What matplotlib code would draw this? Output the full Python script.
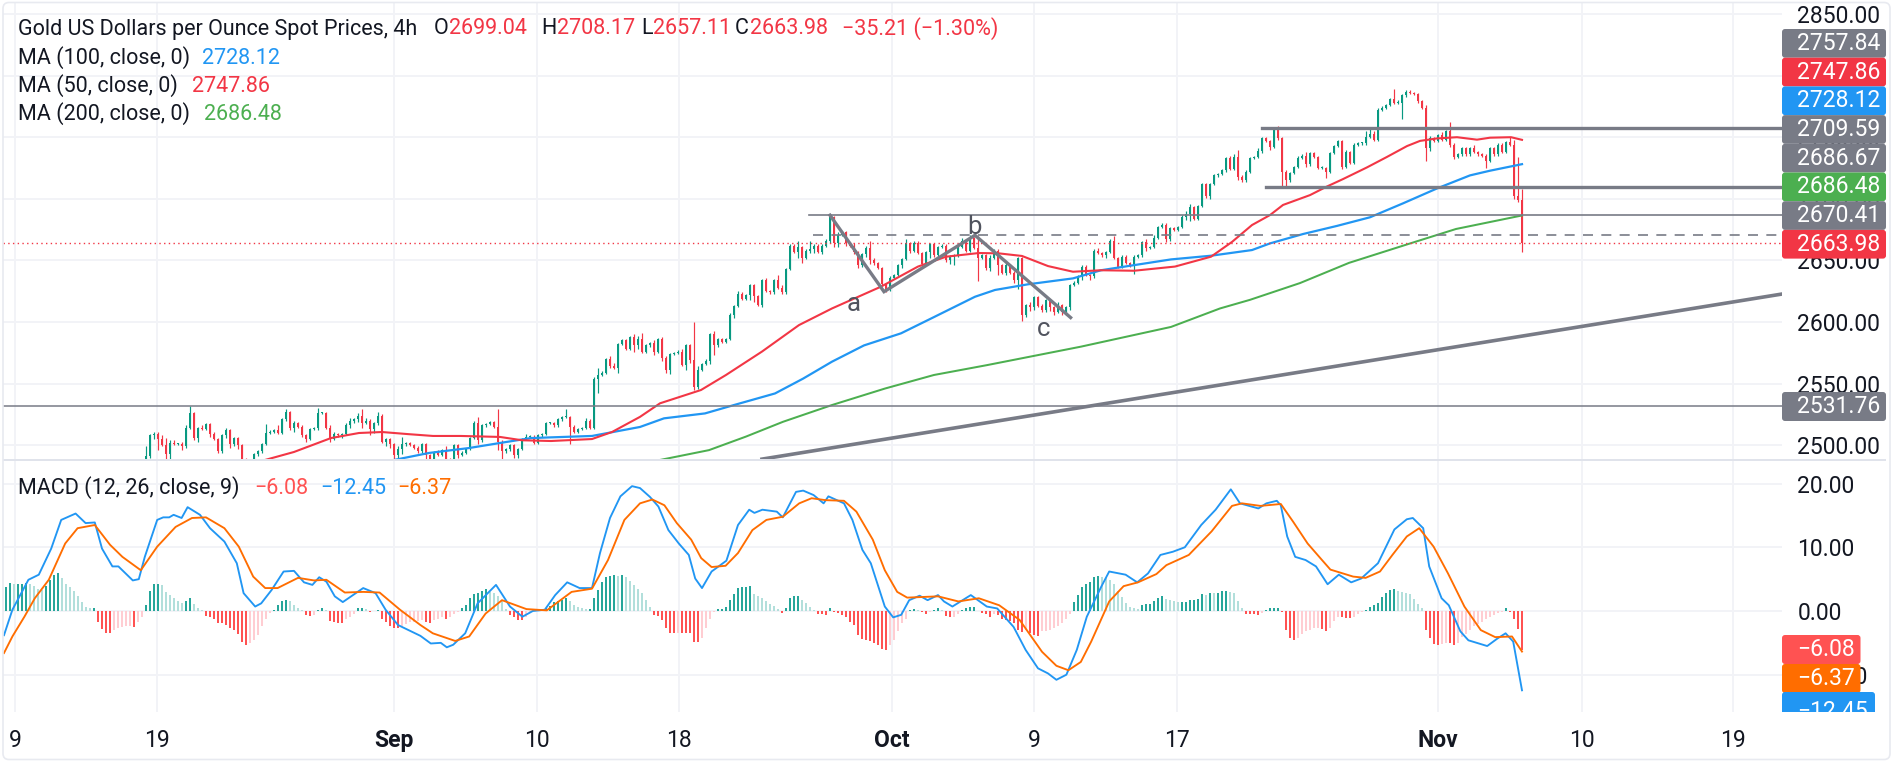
import matplotlib
matplotlib.use('Agg')
import matplotlib.pyplot as plt
from matplotlib.patches import FancyBboxPatch, Rectangle
from matplotlib.transforms import Affine2D, Bbox

W, H = 1894, 763
plt.rcParams['font.family'] = ['Roboto', 'DejaVu Sans']

# candles, one per 4h bar (open is the close before)
closes = [
    2491, 2508, 2509, 2505, 2500, 2493, 2502, 2501, 2501, 2499,
    2514, 2526, 2506, 2514, 2513, 2517, 2509, 2505, 2495, 2508,
    2512, 2501, 2506, 2500, 2489, 2485, 2483, 2493, 2495, 2501,
    2510, 2511, 2512, 2510, 2521, 2527, 2514, 2518, 2515, 2508,
    2505, 2513, 2514, 2526, 2526, 2514, 2505, 2509, 2508, 2509,
    2516, 2520, 2521, 2524, 2518, 2520, 2513, 2518, 2524, 2503,
    2505, 2501, 2492, 2497, 2501, 2502, 2500, 2498, 2495, 2501,
    2492, 2489, 2494, 2492, 2496, 2489, 2488, 2500, 2492, 2494,
    2497, 2506, 2518, 2504, 2516, 2517, 2519, 2515, 2503, 2495,
    2497, 2500, 2492, 2497, 2505, 2507, 2507, 2502, 2508, 2509,
    2518, 2518, 2516, 2521, 2523, 2523, 2515, 2511, 2513, 2514,
    2520, 2514, 2554, 2557, 2559, 2570, 2564, 2563, 2582, 2585,
    2578, 2588, 2581, 2586, 2576, 2581, 2583, 2576, 2586, 2571,
    2561, 2574, 2575, 2576, 2565, 2581, 2569, 2547, 2561, 2566,
    2568, 2590, 2581, 2586, 2584, 2586, 2606, 2613, 2623, 2619,
    2622, 2630, 2621, 2614, 2634, 2625, 2624, 2634, 2628, 2624,
    2643, 2662, 2657, 2661, 2652, 2658, 2659, 2662, 2657, 2662,
    2666, 2685, 2664, 2671, 2673, 2664, 2662, 2657, 2646, 2655,
    2660, 2650, 2648, 2644, 2631, 2626, 2636, 2638, 2646, 2651,
    2664, 2658, 2664, 2656, 2647, 2657, 2663, 2654, 2661, 2662,
    2650, 2653, 2654, 2661, 2666, 2658, 2668, 2660, 2652, 2654,
    2644, 2652, 2658, 2646, 2640, 2646, 2640, 2634, 2652, 2606,
    2614, 2612, 2620, 2613, 2610, 2618, 2612, 2608, 2614, 2608,
    2612, 2630, 2632, 2637, 2645, 2638, 2637, 2658, 2656, 2654,
    2657, 2666, 2652, 2645, 2653, 2648, 2646, 2653, 2654, 2665,
    2660, 2661, 2668, 2677, 2679, 2667, 2676, 2675, 2677, 2685,
    2688, 2693, 2684, 2694, 2712, 2702, 2712, 2719, 2720, 2723,
    2733, 2724, 2734, 2718, 2715, 2722, 2733, 2734, 2739, 2749,
    2747, 2742, 2756, 2749, 2722, 2715, 2721, 2726, 2733, 2735,
    2728, 2737, 2734, 2725, 2725, 2722, 2737, 2743, 2747, 2726,
    2738, 2729, 2744, 2745, 2745, 2750, 2753, 2748, 2772, 2774,
    2776, 2781, 2778, 2778, 2784, 2787, 2786, 2785, 2779, 2774,
    2741, 2749, 2747, 2752, 2748, 2755, 2744, 2734, 2736, 2741,
    2736, 2741, 2738, 2736, 2735, 2731, 2741, 2736, 2744, 2738,
    2746, 2744, 2702, 2699, 2663.98]
upper_wick = [
    8, 1, 2, 2, 3, 6, 2, 2, 1, 2,
    2, 6, 1, 1, 2, 1, 1, 2, 1, 1,
    2, 1, 1, 1, 1, 1, 1, 1, 1, 1,
    7, 1, 1, 4, 1, 2, 1, 2, 1, 1,
    1, 1, 1, 4, 1, 1, 2, 2, 1, 1,
    2, 2, 1, 2, 5, 2, 1, 1, 3, 1,
    1, 1, 1, 2, 6, 1, 1, 1, 1, 1,
    1, 1, 1, 2, 1, 3, 1, 1, 1, 1,
    1, 1, 2, 5, 1, 1, 1, 1, 14, 1,
    1, 1, 1, 1, 1, 2, 1, 1, 1, 1,
    1, 1, 1, 1, 1, 6, 1, 1, 1, 1,
    2, 1, 1, 6, 1, 1, 2, 3, 1, 1,
    1, 1, 2, 3, 5, 1, 1, 2, 1, 2,
    1, 1, 1, 1, 2, 1, 1, 31, 3, 1,
    2, 1, 3, 1, 1, 1, 1, 1, 2, 1,
    1, 1, 1, 1, 1, 2, 1, 1, 4, 2,
    1, 1, 1, 5, 1, 1, 7, 1, 1, 1,
    1, 3, 1, 2, 1, 1, 1, 2, 1, 1,
    2, 6, 2, 1, 1, 1, 1, 1, 1, 1,
    3, 1, 2, 2, 1, 1, 1, 1, 1, 1,
    1, 1, 1, 1, 2, 1, 3, 1, 10, 1,
    1, 2, 1, 1, 1, 2, 1, 1, 1, 1,
    1, 2, 1, 1, 2, 1, 1, 1, 2, 1,
    1, 1, 1, 1, 1, 1, 1, 1, 2, 1,
    1, 1, 4, 1, 1, 1, 1, 1, 1, 1,
    2, 1, 3, 1, 1, 1, 1, 1, 1, 2,
    2, 3, 1, 1, 1, 1, 1, 1, 1, 1,
    1, 2, 2, 6, 1, 1, 1, 1, 2, 1,
    1, 1, 1, 3, 1, 1, 1, 1, 2, 1,
    3, 1, 1, 1, 2, 1, 1, 1, 1, 1,
    2, 1, 1, 1, 1, 5, 4, 2, 2, 1,
    1, 1, 8, 2, 1, 1, 1, 1, 1, 1,
    2, 2, 1, 1, 2, 1, 7, 1, 1, 1,
    1, 1, 3, 1, 1, 1, 1, 1, 1, 1,
    1, 4, 4, 32, 9.13]
lower_wick = [
    8, 1, 3, 9, 1, 5, 8, 1, 1, 3,
    1, 1, 2, 3, 1, 1, 2, 1, 1, 1,
    2, 3, 2, 3, 3, 3, 3, 5, 2, 1,
    1, 1, 1, 1, 1, 1, 2, 3, 1, 1,
    2, 1, 1, 2, 1, 1, 2, 1, 1, 2,
    1, 2, 2, 2, 4, 1, 5, 3, 2, 1,
    4, 3, 6, 2, 4, 2, 1, 1, 1, 1,
    3, 3, 1, 1, 1, 3, 2, 2, 2, 1,
    1, 1, 1, 3, 1, 1, 1, 1, 7, 7,
    1, 2, 2, 2, 1, 1, 1, 1, 1, 1,
    1, 1, 1, 1, 1, 1, 14, 1, 1, 1,
    1, 1, 1, 12, 1, 1, 1, 1, 4, 1,
    1, 1, 5, 3, 1, 1, 1, 3, 1, 3,
    2, 3, 1, 1, 1, 4, 2, 2, 1, 1,
    1, 2, 8, 1, 1, 1, 1, 3, 1, 1,
    1, 4, 5, 1, 2, 1, 1, 1, 1, 1,
    1, 1, 1, 5, 4, 1, 2, 3, 1, 2,
    1, 2, 3, 3, 1, 2, 1, 2, 2, 1,
    2, 3, 2, 1, 1, 2, 1, 1, 1, 2,
    1, 2, 1, 1, 2, 1, 5, 1, 2, 1,
    1, 3, 7, 1, 1, 1, 1, 1, 19, 1,
    2, 3, 1, 8, 1, 2, 1, 2, 7, 5,
    2, 3, 2, 1, 2, 2, 3, 2, 1, 2,
    2, 2, 1, 1, 3, 1, 3, 1, 1, 1,
    2, 1, 1, 1, 1, 1, 1, 7, 1, 1,
    2, 1, 1, 1, 1, 2, 1, 1, 1, 1,
    2, 6, 1, 1, 1, 1, 2, 1, 1, 1,
    1, 1, 1, 3, 1, 1, 1, 1, 1, 2,
    1, 2, 1, 1, 12, 5, 1, 1, 1, 1,
    2, 1, 1, 1, 1, 5, 1, 1, 1, 2,
    1, 1, 1, 1, 1, 1, 1, 1, 1, 1,
    1, 1, 1, 1, 13, 1, 1, 1, 1, 1,
    10, 2, 1, 1, 1, 1, 2, 2, 1, 1,
    1, 1, 1, 1, 1, 6, 1, 1, 1, 1,
    1, 1, 2, 2, 6.87]

# moving averages: bar number, price
ma50_x = [65.75, 73, 82.25, 89.25, 95, 101.5, 107.75, 114.75, 124.5, 130, 137.25, 147.5, 152.5, 159.5,
          164.5, 174.75, 181, 190, 199.25, 207.5, 219.75, 229, 236, 244.25, 249.25, 255, 261.5, 267.75,
          274.75, 283, 293.25, 302.25, 307.5, 312.5, 317, 320.25, 327, 331.25, 335.25, 341.25, 346.25,
          351.25, 354.5, 358.75, 363.75, 368.75, 372, 377.25, 380]
ma50_y = [2488, 2494.5, 2505.8, 2509.9, 2510.7, 2509, 2507.5, 2507.5, 2506.7, 2504, 2503.4, 2505, 2510.7, 2523,
          2534, 2544.8, 2557, 2576, 2597.5, 2611, 2628.7, 2645, 2653, 2656, 2655.7, 2653.6, 2645.4, 2640.8,
          2642, 2641.6, 2645, 2653, 2665, 2678.7, 2686.8, 2695, 2703, 2710, 2716, 2725.5, 2734,
          2742.8, 2747, 2749, 2750, 2748, 2749.6, 2750, 2747.86]
ma100_x = [98, 106.75, 116.75, 124.5, 132.25, 147.5, 159.5, 165.5, 175.75, 183, 193.25, 200.25, 207.5, 215.5,
           224.75, 233, 243.25, 248.25, 256.5, 267.75, 274.75, 292.25, 302.25, 312.5, 317, 325.25, 333.75,
           342, 350.25, 358.75, 367, 372, 380]
ma100_y = [2488, 2493.7, 2497.7, 2501.8, 2505.8, 2507.5, 2514.8, 2521.8, 2525.8, 2532.6, 2542, 2554, 2567.8, 2581,
           2590.8, 2604, 2620.5, 2626, 2630.6, 2635.4, 2642, 2650.8, 2653.8, 2658.4, 2663.8, 2671.4, 2678,
           2685, 2696.3, 2708.4, 2719, 2722.8, 2728.12]
ma200_x = [164.5, 176.75, 186, 195.25, 207.5, 220.75, 233, 246.25, 269.75, 292.25, 304.5, 312, 324.5, 336.75,
           352.25, 363.5, 380]
ma200_y = [2488, 2496, 2507, 2519, 2532.6, 2546, 2557, 2565, 2580, 2596, 2611, 2618, 2631.6, 2648,
           2664, 2675.5, 2686.48]

# drawings on the price pane
zigzag_x = [207, 220.5, 243.25, 267.15]
zigzag_y = [2686.67, 2624.6, 2670.4, 2603.6]
trend_x = [190, 445]
trend_y = [2488.7, 2622.7]
last_price = 2663.98
level_low = 2531.76
level_top = 2757.84
level_mid = 2709.59
level_peak = 2686.67
level_dash = 2670.41

# MACD pane
macd_x = [0.5, 2.6, 6.6, 9.2, 12.3, 14.8, 18.4, 20.9, 23.2, 25, 27.6, 29.1, 32.7, 34.2, 35.7, 38.8, 40.3, 41.8,
          42.9, 44.9, 46.4, 49.5, 52, 55.6, 58.7, 60.4, 63.3, 64.8, 67.4, 70.4, 73, 75.5, 77.6, 79.3, 81.1,
          83.2, 85.2, 87.3, 90.3, 93.4, 95.9, 99, 104.6, 107.2, 109.7, 111.2, 112.8, 115.8, 118.9, 123.5, 127,
          130.1, 132.7, 135.7, 138.3, 141.3, 144.4, 147.5, 149.5, 152, 154.6, 157.5, 159.5, 162, 164.1, 166.6,
          169.2, 171.7, 173.3, 175, 177.4, 181.1, 184, 186.8, 188.1, 190.1, 193.7, 195.2, 198.5, 200.3, 202.9,
          205.4, 206.6, 210.5, 212.6, 215.1, 217.2, 220.7, 222.8, 224.8, 226.8, 229.4, 231.4, 234, 235.5,
          237.6, 242.2, 246.2, 248.8, 252.9, 255.9, 259, 261.5, 263.6, 266.1, 268.7, 271.2, 274.8, 276.8,
          280.9, 283.8, 286.5, 289.6, 292.7, 295.7, 299.8, 303.4, 307.2, 309.5, 314.1, 316.1, 318.7, 319.7,
          321.3, 323.3, 325.9, 328.5, 331.4, 334.2, 337.3, 339.8, 344, 348.1, 351.2, 352.7, 355.3, 356.8,
          359.9, 361.7, 364.6, 366.6, 371.3, 373.9, 375.9, 377.8, 380]
macd_y = [-3.8, 0.2, 4.9, 5.7, 9.8, 14.3, 15.3, 13.8, 13.9, 9.8, 7, 7, 4.8, 5, 8.5, 14.3, 14.7, 14.7,
          15.1, 14.6, 16.3, 15.1, 13, 10.9, 7.5, 2.8, 0.7, 1.2, 3.3, 6.2, 6.3, 4.5, 4.1, 5.3, 4.6,
          2.3, 1.4, 2.3, 3.6, 2.8, 0.2, -2.2, -3.9, -5.1, -5, -5.7, -5.3, -3.5, 1.2, 4.1, 0.7,
          -0.9, 0, 0.2, 2.5, 4.5, 3.6, 3.6, 9.1, 14.6, 18, 19.6, 19.3, 17.9, 16.4, 12.7,
          10.6, 8.8, 5.1, 3.6, 6.2, 7.9, 13.5, 15.9, 15.4, 15.9, 15.6, 14.7, 18.7, 18.9, 18.2,
          16.9, 18, 16.9, 14.3, 9.6, 7.5, 0.7, -1, -0.6, 1.7, 2.4, 1.7, 2.5, 1.5,
          0.7, 2.5, 0.7, 0.4, -2.5, -6.1, -9, -9.8, -10.8, -10, -6.1, -0.9, 3.8, 6.2,
          5.7, 4.5, 5.9, 8.8, 9.3, 10, 13.5, 15.9, 19.1, 16.9, 16.1, 16.9, 17.3, 16.6,
          11.7, 8.5, 8, 7, 4.2, 5.7, 4.5, 5.1, 7.5, 12.8, 14.4, 14.6, 13, 7,
          2, 0.9, -3.2, -4.6, -5.5, -4.3, -3.5, -4.8, -12.45]
signal_x = [0.5, 2.6, 5.6, 8.2, 11.7, 15.8, 18.9, 23.2, 27, 30.1, 34.7, 38.8, 43.4, 47.5, 51, 55.6, 59.2, 62.8,
            65.8, 68.9, 74, 78, 81.1, 85.7, 90.3, 94.4, 99.5, 104.6, 107.7, 113.3, 116.8, 120.9, 125, 131.1,
            136.2, 142.4, 147.5, 151.5, 155.6, 159.5, 162.6, 165.6, 168.7, 172.3, 174.8, 177.4, 180.9, 184,
            187.6, 191.1, 195.2, 199.3, 202.4, 205.9, 210.5, 213.6, 217.7, 220.7, 223.8, 226.3, 234, 239.1,
            244.2, 249.3, 254.4, 260, 263.6, 266.6, 269.7, 272.3, 276.8, 280.4, 284, 288.6, 291.1, 296.7,
            302.4, 307.5, 310, 314.6, 319.7, 322.8, 326.4, 330, 332.1, 337.8, 340.9, 344.5, 347.6, 351.2,
            354.3, 357.9, 361.5, 365.6, 369.7, 373.3, 377.5, 380]
signal_y = [-6.6, -4, -0.9, 2, 4.9, 10.6, 13, 13.5, 10.4, 8.5, 6.4, 10.1, 13.2, 14.6, 14.7, 13, 10.1, 5.4,
            3.6, 3.6, 5.2, 4.8, 4.9, 2.9, 3, 2.9, 0.2, -2.2, -3.5, -4.7, -4, -0.4, 1.7, 0.3,
            0.1, 3, 3.5, 8, 14.3, 16.9, 17.5, 16.6, 13.8, 11.2, 8.3, 6.9, 7.1, 9.1,
            12.7, 14.3, 14.8, 16.9, 17.7, 17.4, 17.3, 15.6, 11.2, 6.4, 3, 2.1, 2.3, 1.5,
            2, 0.9, -1.4, -6.4, -8.6, -9.3, -8, -4.8, 1.5, 3.9, 4.5, 5.8, 7.2, 8.8,
            12.5, 16.5, 16.9, 16.5, 16.8, 14, 10.6, 8, 6.5, 5.4, 5.2, 6.2, 8.8, 11.7,
            13, 10.1, 5.9, 0.7, -3, -4.1, -4, -6.37]
hist = [
    2.0, 3.8, 4.4, 4.3, 4.3, 4.3, 4.4, 4.2, 3.9, 3.5,
    3.3, 4.0, 4.8, 5.6, 6.0, 5.2, 4.3, 3.7, 3.1, 2.4,
    1.4, 0.7, 0.4, 0.4, -1.7, -2.9, -3.4, -3.4, -3.0, -2.7,
    -2.5, -2.4, -2.3, -2.5, -1.8, -0.9, 1.0, 3.1, 4.2, 4.3,
    4.1, 3.0, 2.5, 2.1, 1.5, 1.3, 1.5, 2.0, 1.1, 0.5,
    0.1, -0.8, -1.0, -1.3, -1.9, -1.9, -2.2, -2.7, -3.0, -3.6,
    -4.8, -5.4, -5.1, -4.5, -3.8, -2.3, -1.3, -0.3, 0.2, 0.9,
    1.6, 1.8, 1.5, 1.0, 0.5, 0.1, -0.7, -0.8, -0.6, 0.2,
    0.4, 0.1, -1.5, -1.8, -1.9, -1.9, -1.3, -0.9, -0.5, 0.4,
    0.4, 0.3, -0.1, 0.0, 0.1, -1.2, -1.7, -2.3, -2.6, -2.7,
    -2.3, -2.0, -1.8, -1.7, -1.5, -1.4, -1.8, -1.9, -1.4, -1.2,
    -0.9, -1.3, -0.9, -0.4, -0.1, 0.4, 1.0, 2.0, 2.7, 2.8,
    3.2, 3.4, 3.0, 2.9, 2.3, 1.6, 0.3, -0.7, -1.0, -1.4,
    -1.4, -0.9, -0.2, 0.0, 0.0, 0.2, 0.5, 0.8, 1.4, 1.6,
    1.8, 2.1, 1.5, 0.9, 0.6, 0.4, 0.3, 0.3, 2.0, 3.3,
    4.6, 5.4, 5.5, 5.6, 5.5, 5.6, 5.3, 4.7, 4.1, 3.4,
    2.8, 1.7, 0.7, -0.6, -0.8, -1.4, -2.7, -3.5, -3.5, -3.4,
    -3.4, -3.4, -3.5, -4.8, -4.8, -4.3, -2.7, -1.2, -0.1, 0.3,
    0.3, 0.7, 1.7, 2.6, 3.6, 3.8, 3.8, 3.9, 2.7, 2.4,
    2.1, 1.5, 1.1, 0.8, 0.3, -0.3, 0.4, 2.0, 2.3, 2.4,
    1.7, 1.3, 0.6, 0.1, -0.4, -0.5, -0.6, 0.4, -0.1, -0.3,
    -0.6, -1.0, -1.7, -2.2, -3.8, -4.4, -4.5, -4.7, -5.1, -5.3,
    -5.9, -6.1, -5.3, -4.6, -3.2, -1.9, -1.2, 0.1, 0.3, 0.2,
    -0.1, -0.5, -0.1, 0.1, 0.4, 0.1, -0.8, -1.0, -0.9, -0.4,
    0.1, 0.4, 0.6, 0.7, 0.0, -0.3, -0.5, -0.9, -0.4, -0.6,
    -1.2, -1.4, -1.6, -1.9, -3.0, -3.3, -3.0, -3.5, -3.8, -3.9,
    -3.2, -3.1, -3.0, -2.7, -2.4, -1.9, -1.2, -0.5, 1.4, 2.5,
    3.8, 4.3, 4.6, 5.3, 5.5, 5.4, 5.2, 4.9, 4.2, 3.2,
    2.2, 1.2, 0.6, 0.4, 0.3, 0.9, 1.1, 1.1, 1.5, 2.0,
    2.3, 1.9, 1.8, 1.5, 1.4, 1.4, 1.4, 1.8, 1.8, 1.9,
    2.6, 2.5, 2.9, 2.8, 2.9, 3.1, 3.2, 3.0, 2.8, 1.6,
    0.5, -0.5, -0.5, -0.5, -0.7, -0.3, 0.2, 0.4, 0.5, 0.5,
    -0.1, -3.0, -4.2, -4.6, -4.3, -3.6, -3.2, -3.0, -2.7, -2.6,
    -2.9, -3.1, -2.6, -1.6, -0.9, -0.9, -1.1, -1.1, -0.9, -0.5,
    -0.2, 0.2, 0.6, 0.9, 1.2, 2.2, 2.8, 3.3, 3.4, 3.1,
    3.0, 2.9, 2.6, 1.9, 1.1, 0.4, -3.0, -4.3, -5.2, -5.4,
    -5.2, -5.1, -5.1, -5.3, -5.0, -4.1, -3.6, -3.0, -2.4, -2.0,
    -1.7, -1.3, -1.0, -0.7, -0.3, -0.1, 0.5, -0.1, -1.3, -2.8,
    -6.08]

time_pos = [3.25, 38.75, 98, 133.75, 169.25, 222.5, 258, 293.75, 359, 395, 432.75]
time_labels = ['9', '19', 'Sep', '10', '18', 'Oct', '9', '17', 'Nov', '10', '19']
price_ticks = [2500, 2550, 2600, 2650, 2700, 2750, 2800, 2850]
macd_ticks = [-10, 0, 10, 20]

GREEN = '#089981'
RED = '#F23645'
BLUE = '#2196F3'
MA_GREEN = '#4CAF50'
ORANGE = '#FF6D00'
GREY = '#787B86'
TEXT = '#131722'
GRID = '#F2F3F7'

fig = plt.figure(figsize=(W / 100, H / 100), dpi=100)
pix = Affine2D().scale(1, -1).translate(0, H)


def pane(left, top, right, bottom):
    return fig.add_axes([left / W, 1 - bottom / H, (right - left) / W, (bottom - top) / H])


def style(ax, yticks, ylabels):
    ax.set_xlim(0.25, 445)
    ax.set_yticks(yticks)
    ax.set_yticklabels(ylabels)
    ax.yaxis.tick_right()
    ax.set_xticks(time_pos)
    ax.grid(True, color=GRID, lw=1.4)
    ax.set_axisbelow(True)
    ax.tick_params(axis='both', length=0, labelsize=16.5, labelcolor=TEXT)
    ax.tick_params(axis='y', pad=11)
    for s in ax.spines.values():
        s.set_visible(False)


ax = pane(3, 2, 1782, 460)
ax2 = pane(3, 460, 1782, 712)

# price pane
first = 380 - len(closes) + 1
opens = [closes[0] - 4] + closes[:-1]
for i, c in enumerate(closes):
    o = opens[i]
    col = GREEN if c >= o else RED
    ax.vlines(first + i, min(o, c) - lower_wick[i], max(o, c) + upper_wick[i], color=col, lw=0.85, zorder=2)
    ax.bar(first + i, abs(c - o) or 0.8, bottom=min(o, c), width=0.68, color=col, lw=0, zorder=2)

ax.plot(ma200_x, ma200_y, color=MA_GREEN, lw=1.45, zorder=3)
ax.plot(ma100_x, ma100_y, color=BLUE, lw=1.6, zorder=3)
ax.plot(ma50_x, ma50_y, color=RED, lw=1.5, zorder=3)

ax.axhline(last_price, color=RED, lw=1, ls=(0, (1, 2.4)), zorder=4)
ax.axhline(level_low, color=GREY, lw=1.1, zorder=4)
ax.plot([315, 445], [level_top, level_top], color=GREY, lw=2.4, zorder=4)
ax.plot([316, 445], [level_mid, level_mid], color=GREY, lw=2.4, zorder=4)
ax.plot([201.75, 445], [level_peak, level_peak], color=GREY, lw=1.2, zorder=4)
ax.plot([202.75, 445], [level_dash, level_dash], color=GREY, lw=1.2, ls=(0, (6, 5)), zorder=4)
ax.plot(zigzag_x, zigzag_y, color=GREY, lw=2.4, solid_joinstyle='miter', zorder=4)
ax.plot(trend_x, trend_y, color=GREY, lw=2.6, zorder=4)
ax.text(213, 2615, 'a', color='#50535E', fontsize=18.5, ha='center', va='center', zorder=5)
ax.text(243.2, 2677, 'b', color='#50535E', fontsize=18.5, ha='center', va='center', zorder=5)
ax.text(260.5, 2594, 'c', color='#50535E', fontsize=18.5, ha='center', va='center', zorder=5)

ax.set_ylim(2850 - (460 - 14) / 1.232, 2850 + (14 - 2) / 1.232)
style(ax, price_ticks, ['%.2f' % t for t in price_ticks])
ax.tick_params(axis='x', labelbottom=False)

# MACD pane
for i, v in enumerate(hist):
    prev = hist[i - 1] if i else v
    if v >= 0:
        col = '#26A69A' if v >= prev else '#B2DFDB'
    else:
        col = '#FF5252' if v <= prev else '#FFCDD2'
    ax2.bar(i, v, width=0.5, color=col, lw=0, zorder=2)
ax2.plot(macd_x, macd_y, color=BLUE, lw=1.35, zorder=3)
ax2.plot(signal_x, signal_y, color=ORANGE, lw=1.35, zorder=3)
ax2.set_ylim(-(712 - 611) / 6.37, (611 - 460) / 6.37)
style(ax2, macd_ticks, ['\u2212%.2f' % -t if t < 0 else '%.2f' % t for t in macd_ticks])
ax2.set_xticklabels(time_labels)
ax2.tick_params(axis='x', pad=12)
for lab in ax2.get_xticklabels():
    if lab.get_text() in ('Sep', 'Oct', 'Nov'):
        lab.set_fontweight('bold')


def put(x, y, s, color=TEXT, size=15.5, **kw):
    return fig.text(x, y, s, color=color, fontsize=size, va='center', ha='left', transform=pix, **kw)


# legends
put(18, 29, 'Gold US Dollars per Ounce Spot Prices, 4h')
for x, k, xv, v in [(434, 'O', 449, '2699.04'), (541.5, 'H', 556.5, '2708.17'),
                    (641.5, 'L', 653, '2657.11'), (735, 'C', 750, '2663.98')]:
    put(x, 29, k)
    put(xv, 29, v, RED)
put(841.5, 29, '\u221235.21 (\u22121.30%)', RED)
put(18, 58, 'MA (100, close, 0)')
put(202, 58, '2728.12', BLUE)
put(18, 86, 'MA (50, close, 0)')
put(192, 86, '2747.86', RED)
put(18, 114, 'MA (200, close, 0)')
put(204, 114, '2686.48', MA_GREEN)
put(18, 488, 'MACD (12, 26, close, 9)')
put(254, 488, '\u22126.08', '#FF5252')
put(320, 488, '\u221212.45', BLUE)
put(397, 488, '\u22126.37', ORANGE)


def tag(top, height, right, color, s, clip=None):
    box = FancyBboxPatch((1782, top), right - 1782, height, boxstyle='round,pad=0,rounding_size=3',
                         fc=color, ec='none', transform=pix, zorder=5)
    fig.add_artist(box)
    t = fig.text(1797, top + height / 2, s, color='white', fontsize=16.5, va='center', ha='left',
                 transform=pix, zorder=6)
    if clip is not None:
        box.set_clip_box(clip)
        box.set_clip_on(True)
        t.set_clip_box(clip)
        t.set_clip_on(True)


for i, (s, c) in enumerate([('2757.84', GREY), ('2747.86', RED), ('2728.12', BLUE), ('2709.59', GREY),
                            ('2686.67', GREY), ('2686.48', MA_GREEN), ('2670.41', GREY), ('2663.98', RED)]):
    tag(29 + i * 28.7, 28.7, 1886, c, s)
tag(392, 29, 1886, GREY, '2531.76')
tag(635, 29, 1860.5, '#FF5252', '\u22126.08')
tag(664, 29, 1860.5, ORANGE, '\u22126.37')
tag(692, 40, 1875, BLUE, '\u221212.45', clip=Bbox([[1782, H - 712], [1894, H - 692]]))

# pane separator and outer frame
fig.add_artist(Rectangle((3, 459), 1883, 2, fc='#E0E3EB', ec='none', transform=pix, zorder=4))
fig.add_artist(FancyBboxPatch((3, 2.5), 1887, 757, boxstyle='round,pad=0,rounding_size=6', fc='none',
                              ec='#E8EAF0', lw=1.2, transform=pix, zorder=4))

fig.savefig('out.png', dpi=100)
